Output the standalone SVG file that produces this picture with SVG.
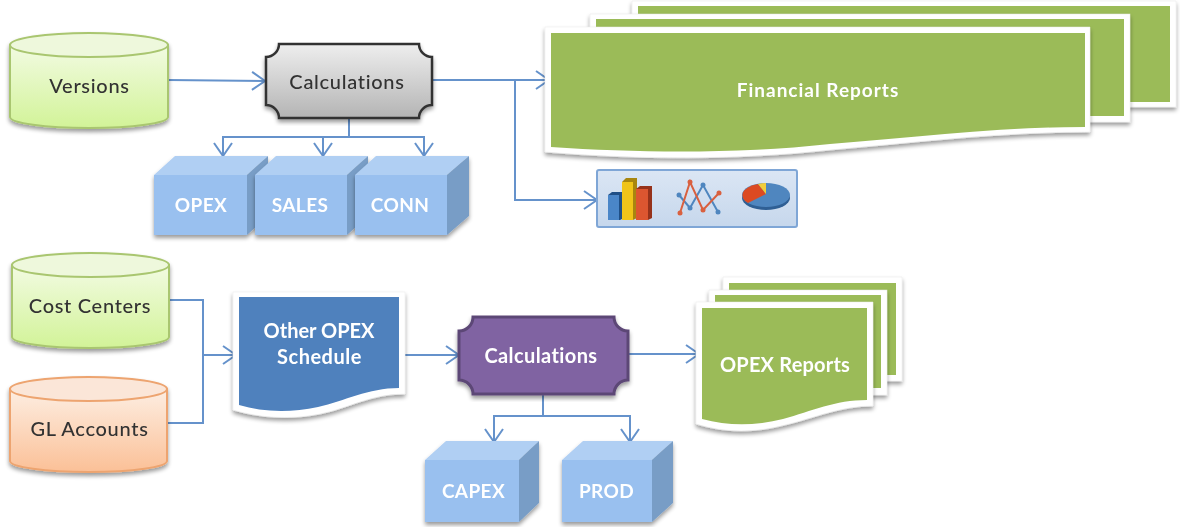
<svg xmlns="http://www.w3.org/2000/svg" width="1180" height="527" viewBox="0 0 1180 527">
<style>
text{font-family:Lato,"Noto Sans","Liberation Sans",sans-serif;text-anchor:middle;font-size:20px;letter-spacing:.7px}
.d{fill:#333;font-weight:500}
.w{fill:#fff;font-weight:700;font-size:19px;letter-spacing:.4px}
.cy{stroke-width:2}
.g .b{fill:url(#gGreen);stroke:#a9c66f}.g .t{fill:#eef8dc;stroke:#a9c66f}
.o .b{fill:url(#gOrange);stroke:#eda46f}.o .t{fill:#fbe6d8;stroke:#eda46f}
.cf{fill:#99c0ef}.ct{fill:#b0cff3}.cs{fill:#789dc6}
.sheet{fill:#fff;stroke:#e8e8e8;stroke-width:.5}
.gr{fill:#9bbb59}
.c{fill:none;stroke:#6592cb;stroke-width:2}
.a{marker-end:url(#arr)}
</style>
<defs>
<linearGradient id="gGreen" x1="0" y1="0" x2="0" y2="1"><stop offset="0" stop-color="#f2fbe2"/><stop offset="1" stop-color="#d2f398"/></linearGradient>
<linearGradient id="gOrange" x1="0" y1="0" x2="0" y2="1"><stop offset="0" stop-color="#fdeee2"/><stop offset="1" stop-color="#fbc097"/></linearGradient>
<linearGradient id="gGray" x1="0" y1="0" x2="0" y2="1"><stop offset="0" stop-color="#eeeeee"/><stop offset="1" stop-color="#b4b4b4"/></linearGradient>
<linearGradient id="gPanel" x1="0" y1="0" x2="0" y2="1"><stop offset="0" stop-color="#dbe6f4"/><stop offset="1" stop-color="#c6d7ec"/></linearGradient>
<filter id="soft" x="0" y="0" width="100%" height="100%" filterUnits="userSpaceOnUse" primitiveUnits="userSpaceOnUse"><feGaussianBlur stdDeviation=".55"/></filter>
<filter id="sh" x="-5%" y="-5%" width="110%" height="115%"><feGaussianBlur in="SourceAlpha" stdDeviation="2"/><feOffset dy="3"/><feComponentTransfer><feFuncA type="linear" slope=".4"/></feComponentTransfer><feMerge><feMergeNode/><feMergeNode in="SourceGraphic"/></feMerge></filter>
<marker id="arr" markerUnits="userSpaceOnUse" markerWidth="18" markerHeight="22" refX="15" refY="11" orient="auto"><path d="M2 2 L15 11 L2 20" fill="none" stroke="#6592cb" stroke-width="2"/></marker>
</defs>
<g style="filter:blur(.55px)">

<g id="connectors">
<path class="c a" d="M168 80 L265 81"/>
<path class="c a" d="M349 118 V137 H223 V156"/>
<path class="c a" d="M349 137 H323 V156"/>
<path class="c a" d="M349 137 H424 V156"/>
<path class="c a" d="M432 80 H549"/>
<path class="c a" d="M515 80 V200 H597"/>
<path class="c" d="M169 300 H203 V423 H168"/>
<path class="c a" d="M203 355 H236"/>
<path class="c a" d="M405 355 H459"/>
<path class="c a" d="M628 354 H699"/>
<path class="c a" d="M543 394 V416 H494 V442"/>
<path class="c a" d="M543 416 H630 V442"/>
</g>

<g id="versions" class="g" filter="url(#sh)">
<path class="b cy" d="M10 45 V117 C10 123 45 128 89 128 S168 123 168 117 V45 Z"/>
<ellipse class="t cy" cx="89" cy="45" rx="79" ry="12"/>
<text class="d" x="89.500" y="93">Versions</text>
</g>

<g id="calc-top" filter="url(#sh)">
<path fill="url(#gGray)" stroke="#333" stroke-width="2.500" d="M279 44 H419 A13 13 0 0 0 432 57 V105 A13 13 0 0 0 419 118 H279 A13 13 0 0 0 266 105 V57 A13 13 0 0 0 279 44 Z"/>
<text class="d" x="347" y="89">Calculations</text>
</g>

<g id="cube-opex" filter="url(#sh)">
<path class="ct" d="M154 175 L175 156 H268 L247 175 Z"/><path class="cs" d="M247 175 L268 156 V216 L247 235 Z"/><rect class="cf" x="154" y="175" width="93" height="60"/>
<text class="w" x="201" y="212">OPEX</text>
</g>
<g id="cube-sales" filter="url(#sh)">
<path class="ct" d="M255 175 L276 156 H368 L347 175 Z"/><path class="cs" d="M347 175 L368 156 V216 L347 235 Z"/><rect class="cf" x="255" y="175" width="92" height="60"/>
<text class="w" x="300" y="212">SALES</text>
</g>
<g id="cube-conn" filter="url(#sh)">
<path class="ct" d="M355 175 L376 156 H469 L447 175 Z"/><path class="cs" d="M447 175 L469 156 V216 L447 235 Z"/><rect class="cf" x="355" y="175" width="92" height="60"/>
<text class="w" x="400" y="212">CONN</text>
</g>

<g id="financial-reports">
<g filter="url(#sh)"><rect class="sheet" x="632" y="1" width="544" height="106"/><rect class="gr" x="638" y="6" width="532" height="96"/></g>
<g filter="url(#sh)"><rect class="sheet" x="590" y="14" width="540" height="108"/><rect class="gr" x="596" y="19" width="528" height="97"/></g>
<g filter="url(#sh)">
<path class="sheet" d="M545 27 H1090 V132 C1000 132 920 142 830 150 C740 160 640 160 545 152 Z"/>
<path class="gr" d="M551 33 H1085 V127 C1000 127 920 137 830 144 C740 154 640 153 551 147 Z"/>
<text class="w" x="818" y="97" style="letter-spacing:1px">Financial Reports</text>
</g>
</g>

<g id="charts">
<rect x="597" y="170" width="200" height="57" rx="2" fill="url(#gPanel)" stroke="#7fa6d6" stroke-width="2"/>
<path d="M608 195 L612 192 H624 V218 L620 220 H608 Z" fill="#1f4f86"/><rect x="608" y="195" width="11" height="25" fill="#4a86c8"/>
<path d="M622 182 L626 178 H637 V218 L633 220 H622 Z" fill="#a8860f"/><rect x="622" y="182" width="11" height="38" fill="#f0c419"/>
<path d="M636 189 L640 186 H652 V218 L648 220 H636 Z" fill="#96321a"/><rect x="636" y="189" width="12" height="31" fill="#dc5630"/>
<polyline points="679,195 690,208 703,185 718,212" fill="none" stroke="#4f86bf" stroke-width="2"/>
<polyline points="680,213 690,182 703,210 719,193" fill="none" stroke="#d9603f" stroke-width="2"/>
<g fill="#4f86bf"><circle cx="679" cy="195" r="2.500"/><circle cx="690" cy="208" r="2.500"/><circle cx="703" cy="185" r="2.500"/><circle cx="718" cy="212" r="2.500"/></g>
<g fill="#d9603f"><circle cx="680" cy="213" r="2.500"/><circle cx="690" cy="182" r="2.500"/><circle cx="703" cy="210" r="2.500"/><circle cx="719" cy="193" r="2.500"/></g>
<ellipse cx="766" cy="198" rx="24" ry="12" fill="#2f5f94"/>
<ellipse cx="766" cy="195" rx="24" ry="12" fill="#4f86bf"/>
<path d="M748 203 A24 12 0 0 1 758 184 L766 194 Z" fill="#dc4a22"/>
<path d="M758 184 A24 12 0 0 1 766 183 L766 194 Z" fill="#f2cd3a"/>
</g>

<g id="cost-centers" class="g" filter="url(#sh)">
<path class="b cy" d="M12 265 V337 C12 343 47 348 90 348 S169 343 169 337 V265 Z"/>
<ellipse class="t cy" cx="90.500" cy="265" rx="78.500" ry="12"/>
<text class="d" x="90" y="313">Cost Centers</text>
</g>
<g id="gl-accounts" class="o" filter="url(#sh)">
<path class="b cy" d="M10 389 V461 C10 467 45 472 89 472 S167 467 167 461 V389 Z"/>
<ellipse class="t cy" cx="88.500" cy="389" rx="78.500" ry="12"/>
<text class="d" x="89.500" y="436">GL Accounts</text>
</g>

<g id="other-opex" filter="url(#sh)">
<path class="sheet" d="M233 292 H405 V394 C370 394 350 408 320 414 C290 420 260 418 233 410 Z"/>
<path fill="#4f81bd" d="M239 297 H399 V388 C368 388 345 401 318 407 C290 413 262 412 239 405 Z"/>
<text class="w" x="319" y="338" style="font-size:20px;letter-spacing:0">Other OPEX</text>
<text class="w" x="319.500" y="364" style="font-size:20px;letter-spacing:.5px">Schedule</text>
</g>

<g id="calc-bottom" filter="url(#sh)">
<path fill="#8064a2" stroke="#5c4776" stroke-width="3" d="M473 317 H614 A14 14 0 0 0 628 331 V380 A14 14 0 0 0 614 394 H473 A14 14 0 0 0 459 380 V331 A14 14 0 0 0 473 317 Z"/>
<text class="w" x="541" y="363" style="font-size:20px">Calculations</text>
</g>

<g id="cube-capex" filter="url(#sh)">
<path class="ct" d="M425 460 L446 441 H539 L519 460 Z"/><path class="cs" d="M519 460 L539 441 V503 L519 522 Z"/><rect class="cf" x="425" y="460" width="94" height="62"/>
<text class="w" x="473.500" y="498">CAPEX</text>
</g>
<g id="cube-prod" filter="url(#sh)">
<path class="ct" d="M562 460 L583 441 H673 L652 460 Z"/><path class="cs" d="M652 460 L673 441 V503 L652 522 Z"/><rect class="cf" x="562" y="460" width="90" height="62"/>
<text class="w" x="606.500" y="498">PROD</text>
</g>

<g id="opex-reports">
<g filter="url(#sh)"><rect class="sheet" x="723" y="277" width="179" height="104"/><rect class="gr" x="729" y="283" width="167" height="92"/></g>
<g filter="url(#sh)"><rect class="sheet" x="709" y="290" width="178" height="105"/><rect class="gr" x="715" y="295" width="166" height="93"/></g>
<g filter="url(#sh)">
<path class="sheet" d="M696 302 H873 V406 C840 406 815 418 785 425 C755 433 725 433 696 424 Z"/>
<path class="gr" d="M702 308 H867 V400 C835 400 812 411 783 419 C755 426 728 426 702 419 Z"/>
<text class="w" x="785" y="372" style="font-size:20px;letter-spacing:.2px">OPEX Reports</text>
</g>
</g>
</g>
</svg>
